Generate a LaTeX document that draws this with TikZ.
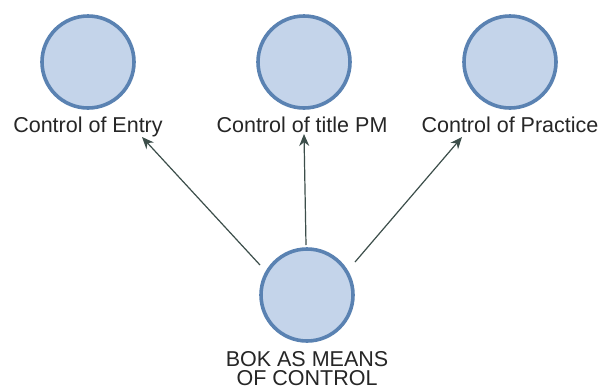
\documentclass[tikz,border=0pt]{standalone}
\usepackage{fontspec}
\setmainfont{Liberation Sans}
\usetikzlibrary{arrows.meta}
\begin{document}
\begin{tikzpicture}[x=1pt,y=-1pt,
  bubble/.style={circle, draw=bubbleedge, fill=bubblefill, line width=3.6pt, minimum size=92pt, inner sep=0pt},
  caption/.style={font=\fontsize{21.5}{19.5}\selectfont, text=black!85, inner sep=0pt, align=center},
  link/.style={draw=linkcol, line width=1.2pt, -{Stealth[length=12pt,width=10pt]}}]
  \definecolor{bubblefill}{HTML}{C4D4EA}
  \definecolor{bubbleedge}{HTML}{5A82B2}
  \definecolor{linkcol}{HTML}{3C4E4A}
  \useasboundingbox[fill=white] (0,0) rectangle (601,389);

  % three outcome circles along the top
  \node[bubble] (entry) at (88,62) {};
  \node[bubble] (title) at (304,62) {};
  \node[bubble] (practice) at (510,62) {};
  \node[caption, anchor=base] (lentry) at (88,132) {Control of Entry};
  \node[caption, anchor=base] (ltitle) at (302,132) {Control of title PM};
  \node[caption, anchor=base] (lpractice) at (510,132) {Control of Practice};

  % source circle at the bottom
  \node[bubble] (bok) at (307,295) {};
  \node[caption, anchor=north] (lbok) at (307,351) {BOK AS MEANS\\OF CONTROL};

  % connector end points
  \coordinate (s1) at (260,265);
  \coordinate (s2) at (306,245);
  \coordinate (s3) at (355,262);
  \coordinate (t1) at (142,137);
  \coordinate (t2) at (304,134);
  \coordinate (t3) at (462,137);

  \draw[link] (s1) -- (t1);
  \draw[link] (s2) -- (t2);
  \draw[link] (s3) -- (t3);
\end{tikzpicture}
\end{document}
